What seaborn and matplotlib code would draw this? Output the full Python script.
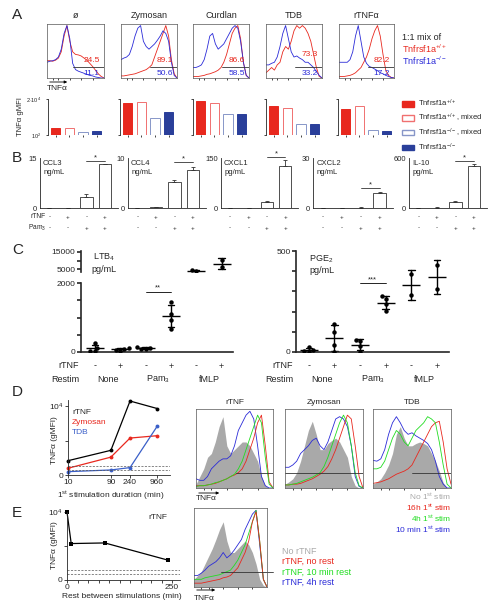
import numpy as np
import pandas as pd
import seaborn as sns
import matplotlib.pyplot as plt
from matplotlib.patches import Patch

sns.set_style("ticks")
plt.rcParams['font.family'] = ['Liberation Sans', 'DejaVu Sans']
plt.rcParams['mathtext.default'] = 'regular'
plt.rcParams['axes.linewidth'] = 0.6
plt.rcParams['xtick.major.width'] = 0.6
plt.rcParams['ytick.major.width'] = 0.6
plt.rcParams['xtick.major.size'] = 2
plt.rcParams['ytick.major.size'] = 2

RED = '#e8281e'
BLUE = '#2b2bd8'
GREEN = '#22dd22'
GRAY = '#a9a9a9'
DKBLUE = '#2a3f9a'

# ---------------- data ----------------
hist_x = list(range(0, 101, 5))

# A: flow histograms, Tnfrsf1a+/+ (red) and -/- (blue)
a_titles = ['ø', 'Zymosan', 'Curdlan', 'TDB', 'rTNFα']
a_red = [
    [.33, .33, .32, .34, .38, .5, .8, 1.0, .7, .5, .45, .44, .42, .38, .34, .28, .22, .15, .08, .03, 0],
    [.04, .04, .05, .06, .07, .08, .1, .12, .14, .16, .2, .25, .4, .55, .7, .85, 1.0, .8, .35, .08, 0],
    [.03, .03, .03, .04, .05, .07, .08, .1, .12, .15, .2, .3, .45, .65, .85, .95, 1.0, .75, .3, .05, 0],
    [.1, .15, .2, .15, .25, .3, .5, .6, .55, .7, .9, 1.0, .95, 1.0, .95, .85, .7, .45, .2, .03, 0],
    [.03, .03, .03, .04, .05, .07, .1, .15, .2, .3, .4, .55, .75, .9, 1.0, .8, .45, .15, .05, .01, 0],
]
a_blue = [
    [.3, .32, .33, .35, .4, .55, .85, 1.0, .75, .28, .16, .13, .11, .09, .07, .05, .04, .02, .01, 0, 0],
    [.35, .38, .4, .45, .6, .8, .95, 1.0, .7, .6, .55, .6, .65, .72, .8, .9, .85, .7, .3, .05, 0],
    [.2, .2, .22, .25, .35, .55, .8, .85, .65, .55, .6, .65, .75, .85, .95, 1.0, .95, .7, .3, .05, 0],
    [.25, .25, .28, .3, .4, .6, .85, 1.0, .75, .5, .4, .42, .38, .35, .3, .3, .25, .2, .12, .05, 0],
    [.3, .3, .3, .3, .35, .5, .8, 1.0, .7, .4, .28, .22, .2, .17, .14, .1, .08, .05, .03, .01, 0],
]
a_pct_red = ['24.5', '89.1', '86.6', '73.3', '82.2']
a_pct_blue = ['11.1', '50.6', '58.5', '33.2', '17.2']

# A: gMFI bars (wt, wt mixed, ko mixed, ko)
a_gmfi_wt = [280, 10700, 14200, 7100, 4600]
a_gmfi_wt_mix = [280, 12300, 10700, 5300, 6800]
a_gmfi_ko_mix = [156, 1170, 2100, 500, 210]
a_gmfi_ko = [180, 2830, 2100, 480, 190]
a_legend = ['Tnfrsf1a$^{+/+}$', 'Tnfrsf1a$^{+/+}$, mixed', 'Tnfrsf1a$^{-/-}$, mixed', 'Tnfrsf1a$^{-/-}$']

# B: cytokines, conditions (rTNF, Pam3): --, +-, -+, ++
b_names = ['CCL3\nng/mL', 'CCL4\nng/mL', 'CXCL1\npg/mL', 'CXCL2\nng/mL', 'IL-10\npg/mL']
b_top = [15, 10, 150, 30, 600]
b_mean = [[0, 0.1, 3.4, 13.1], [0, 0.15, 5.3, 7.6], [0, 0, 19, 127], [0, 0, 0.3, 9.2], [0, 5, 76, 508]]
b_err = [[0, 0, 0.7, 0.2], [0, 0.05, 0.25, 0.7], [0, 0, 1.5, 17], [0, 0, 0.1, 0.6], [0, 2, 12, 16]]
b_rtnf = ['-', '+', '-', '+']
b_pam = ['-', '-', '+', '+']

# C: lipid mediators, groups: None-, None+, Pam3-, Pam3+, fMLP-, fMLP+
c_rtnf = ['-', '+', '-', '+', '-', '+']
c_restim = ['None', 'Pam$_3$', 'fMLP']
ltb4 = [[250, 130, 30, 20], [120, 100, 60, 20], [100, 120, 90, 140],
        [1440, 1090, 930, 670], [4200, 4500], [10500, 6200]]
pge2 = [[25, 10, 0, 5], [140, 100, 35, 0], [60, 55, 30, 2],
        [275, 262, 238, 205], [385, 280], [430, 310]]

# D: 1st stimulation duration
d_dur = [10, 90, 240, 960]
d_rtnf = [260, 520, 14000, 8500]
d_zym = [157, 330, 1180, 1380]
d_tdb = [125, 140, 164, 2570]
d_base = [183, 140]
d_titles = ['rTNF', 'Zymosan', 'TDB']
d_gray = [
    [.05, .15, .25, .4, .45, .6, .8, .93, .55, .45, .5, .55, .6, .6, .55, .45, .35, .15, .03, 0, 0],
    [.05, .08, .12, .2, .35, .55, .75, .87, .7, .5, .5, .58, .62, .65, .6, .5, .4, .15, .03, 0, 0],
    [.05, .08, .12, .2, .3, .45, .7, .8, .65, .55, .55, .58, .6, .58, .55, .45, .35, .22, .07, 0, 0],
]
d_blue = [
    [.12, .1, .1, .15, .25, .3, .35, .38, .38, .42, .55, .75, .85, .95, 1.0, .9, .55, .15, .03, 0, 0],
    [.27, .27, .3, .35, .45, .5, .55, .62, .65, .55, .5, .6, .75, .9, .93, .9, .8, .55, .15, .02, 0],
    [.36, .35, .38, .5, .7, .85, .93, .85, .75, .7, .72, .68, .65, .62, .58, .5, .35, .15, .05, 0, 0],
]
d_green = [
    [.02, .03, .03, .04, .05, .07, .08, .1, .12, .15, .18, .25, .35, .5, .65, .8, .95, .85, .4, .05, 0],
    [.04, .04, .05, .06, .08, .1, .12, .14, .17, .2, .28, .4, .55, .7, .85, .95, .85, .55, .2, .03, 0],
    [.25, .25, .27, .35, .5, .65, .75, .7, .6, .55, .65, .75, .8, .85, .93, .9, .85, .6, .3, .05, 0],
]
d_red = [
    [.03, .03, .03, .04, .05, .06, .08, .1, .12, .15, .17, .2, .25, .35, .5, .65, .85, .95, .55, .08, 0],
    [.04, .04, .05, .05, .06, .08, .1, .12, .15, .18, .22, .28, .38, .5, .65, .8, .95, .9, .55, .15, 0],
    [.06, .07, .08, .1, .12, .15, .18, .2, .22, .25, .3, .4, .5, .6, .7, .8, .85, .87, .6, .25, .05],
]
d_legend = ['No 1$^{st}$ stim', '16h 1$^{st}$ stim', '4h 1$^{st}$ stim', '10 min 1$^{st}$ stim']

# E: rest between stimulations
e_rest = [0, 10, 90, 240]
e_tnf = [10000, 1180, 1230, 385]
e_base = [196, 150]
e_gray = [.1, .15, .2, .3, .4, .5, .62, .75, .85, .6, .45, .45, .5, .55, .6, .55, .45, .3, .1, .02, 0]
e_blue = [.15, .15, .18, .22, .27, .3, .33, .38, .45, .38, .42, .48, .55, .62, .75, .85, .95, 1.0, .55, .1, 0]
e_green = [.1, .1, .1, .12, .13, .14, .15, .16, .18, .2, .22, .28, .35, .45, .55, .7, .85, 1.0, .6, .1, 0]
e_red = [.05, .05, .05, .06, .07, .08, .09, .1, .12, .13, .15, .2, .25, .35, .45, .6, .85, .98, .6, .1, 0]
e_legend = ['No rTNF', 'rTNF, no rest', 'rTNF, 10 min rest', 'rTNF, 4h rest']

# ---------------- figure ----------------
W, H = 496, 611
fig = plt.figure(figsize=(W / 100, H / 100), dpi=100)


def ax_at(x0, y0, x1, y1):
    return fig.add_axes([x0 / W, 1 - y1 / H, (x1 - x0) / W, (y1 - y0) / H])


def ftext(x, y, s, **kw):
    kw.setdefault('fontsize', 6)
    kw.setdefault('va', 'center')
    fig.text(x / W, 1 - y / H, s, **kw)


def farrow(x0, x1, y):
    fig.add_artist(plt.matplotlib.patches.FancyArrowPatch(
        (x0 / W, 1 - y / H), (x1 / W, 1 - y / H), transform=fig.transFigure,
        arrowstyle='-|>', mutation_scale=4, lw=0.6, color='k'))


def hist_box(ax):
    ax.set_xlim(0, 100)
    ax.set_ylim(0, 1.03)
    ax.set_xticks([10, 20, 40, 60, 80])
    ax.tick_params(axis='x', length=1.2, labelbottom=False)
    ax.set_yticks([])
    ax.set_xlabel('')
    ax.set_ylabel('')
    for s in ax.spines.values():
        s.set_linewidth(0.5)
        s.set_color('#555555')


# panel letters
for letter, y in zip('ABCDE', [15, 158, 250, 392, 513]):
    ftext(12, y, letter, fontsize=11)

# ---- A histograms ----
a_boxes = [(47, 24, 104, 78), (121, 24, 177, 78), (193, 24, 249, 78), (266, 24, 322, 78), (339, 24, 394, 78)]
for i, (x0, y0, x1, y1) in enumerate(a_boxes):
    ax = ax_at(x0, y0, x1, y1)
    sns.lineplot(x=hist_x, y=a_red[i], ax=ax, color=RED, lw=0.6)
    sns.lineplot(x=hist_x, y=a_blue[i], ax=ax, color=BLUE, lw=0.6)
    hist_box(ax)
    gx = 0.46 if i == 0 else 0.52
    ax.plot([gx * 100, 100], [0.21, 0.21], color='#333333', lw=0.6)
    ry = 0.43 if i == 3 else 0.32
    ax.text(0.78, ry, a_pct_red[i], color=RED, fontsize=6, ha='center', va='center', transform=ax.transAxes)
    ax.text(0.78, 0.09, a_pct_blue[i], color=BLUE, fontsize=6, ha='center', va='center', transform=ax.transAxes)
    ftext((x0 + x1) / 2, 15, a_titles[i], fontsize=6.5, ha='center')
farrow(47, 70, 82)
ftext(47, 88, 'TNFα', fontsize=6)
ftext(402, 37, '1:1 mix of', fontsize=6.5)
ftext(402, 49, 'Tnfrsf1a$^{+/+}$', fontsize=6.5, color=RED)
ftext(402, 61, 'Tnfrsf1a$^{-/-}$', fontsize=6.5, color=BLUE)

# ---- A bars ----
a_spines = [48, 120, 193, 266, 338]
for i, x0 in enumerate(a_spines):
    ax = ax_at(x0, 99, x0 + 57, 135)
    vals = [a_gmfi_wt[i], a_gmfi_wt_mix[i], a_gmfi_ko_mix[i], a_gmfi_ko[i]]
    faces = [RED, 'white', 'white', DKBLUE]
    edges = [RED, '#f07070', '#8796c8', DKBLUE]
    ax.bar(range(4), vals, width=0.68, color=faces, edgecolor=edges, linewidth=0.7)
    ax.set_yscale('log')
    ax.set_ylim(100, 20000)
    ax.set_xlim(-0.55, 3.6)
    ax.set_xticks(range(4))
    ax.set_xticklabels([])
    ax.tick_params(axis='x', length=1.2)
    ax.minorticks_off()
    ax.set_yticks([100, 20000])
    ax.tick_params(axis='y', labelsize=4, length=1.5)
    if i == 0:
        ax.set_yticklabels(['10$^2$', '2·10$^4$'])
    else:
        ax.set_yticklabels([])
    sns.despine(ax=ax, top=True, right=True, bottom=True)
ftext(20, 117, 'TNFα gMFI', fontsize=5.5, rotation=90, ha='center')
fig.legend(handles=[Patch(facecolor=RED, edgecolor=RED),
                    Patch(facecolor='white', edgecolor='#f07070'),
                    Patch(facecolor='white', edgecolor='#8796c8'),
                    Patch(facecolor=DKBLUE, edgecolor=DKBLUE)],
           labels=a_legend, loc='upper left', bbox_to_anchor=(398 / W, 1 - 94 / H),
           frameon=False, fontsize=5.5, handlelength=1.6, handleheight=0.7,
           labelspacing=0.35, borderpad=0, handletextpad=0.5)

# ---- B ----
b_axes = [(40, 118), (128, 206), (221, 298), (313, 393), (409, 487)]
b_sig = [161, 162, 157, 188, 161]
for i, (x0, x1) in enumerate(b_axes):
    ax = ax_at(x0, 158, x1, 208)
    ax.bar(range(4), b_mean[i], width=0.68, color='white', edgecolor='#333333', linewidth=0.6)
    ax.errorbar(range(4), b_mean[i], yerr=[[0] * 4, b_err[i]], fmt='none', ecolor='#333333',
                elinewidth=0.6, capsize=1.5, capthick=0.6)
    ax.set_ylim(0, b_top[i])
    ax.set_xlim(-0.5, 3.7)
    ax.set_yticks([0, b_top[i]])
    ax.set_yticklabels(['0', str(b_top[i])])
    ax.set_xticks([])
    ax.tick_params(axis='y', labelsize=5.5, length=0, pad=2)
    sns.despine(ax=ax)
    ax.text(0.04, 0.97, b_names[i], transform=ax.transAxes, fontsize=5.5, va='top', linespacing=1.4)
    sy = b_top[i] * (208 - b_sig[i]) / 50
    ax.plot([2, 3], [sy, sy], color='#333333', lw=0.6, clip_on=False)
    ax.text(2.5, sy, '*', ha='center', va='bottom', fontsize=5.5, clip_on=False)
    for k in range(4):
        ax.text(k, -0.18, b_rtnf[k], transform=ax.get_xaxis_transform(), ha='center', va='center', fontsize=4.5)
        ax.text(k, -0.4, b_pam[k], transform=ax.get_xaxis_transform(), ha='center', va='center', fontsize=4.5)
ftext(46, 217, 'rTNF', fontsize=4.8, ha='right')
ftext(46, 228, 'Pam$_3$', fontsize=4.8, ha='right')


# ---- C ----
def long_df(groups):
    return pd.DataFrame({'g': [k for k, g in enumerate(groups) for _ in g],
                         'v': [v for g in groups for v in g]})


def dots_and_bars(ax, df):
    sns.swarmplot(data=df, x='g', y='v', native_scale=True, ax=ax, color='k', size=3.2)
    sns.pointplot(data=df, x='g', y='v', native_scale=True, ax=ax, color='k', errorbar='sd',
                  linestyle='none', marker='_', markersize=13, markeredgewidth=1.0,
                  capsize=0.25, err_kws={'linewidth': 1.0})
    ax.set_xlabel('')
    ax.set_ylabel('')


def c_rows(ax, h_px):
    # rows of condition labels, 14 px and 27 px below the axis
    tr = ax.get_xaxis_transform()
    r1, r2 = -14 / h_px, -27 / h_px
    for k in range(6):
        ax.text(k, r1, c_rtnf[k], transform=tr, ha='center', va='center', fontsize=6.5)
    for k in range(3):
        ax.text(2 * k + 0.5, r2, c_restim[k], transform=tr, ha='center', va='center', fontsize=6.5)
    ax.text(-0.62, r1, 'rTNF', transform=tr, ha='right', va='center', fontsize=6.5)
    ax.text(-0.62, r2, 'Restim', transform=tr, ha='right', va='center', fontsize=6.5)


df_ltb = long_df(ltb4)
ax_lo = ax_at(81, 283, 233, 352)
ax_hi = ax_at(81, 251, 233, 272)
dots_and_bars(ax_lo, df_ltb[df_ltb.g < 4])
dots_and_bars(ax_hi, df_ltb[df_ltb.g >= 4])
for ax in (ax_lo, ax_hi):
    ax.set_xlim(-0.55, 5.45)
    ax.set_xticks([])
    for s in ax.spines.values():
        s.set_linewidth(1.2)
    ax.tick_params(axis='y', width=1.2, length=3, labelsize=6, pad=1)
ax_lo.set_ylim(0, 2000)
ax_lo.set_yticks([0, 500, 1000, 1500, 2000])
ax_lo.set_yticklabels(['0', '', '', '', '2000'])
sns.despine(ax=ax_lo)
ax_hi.set_ylim(3500, 15500)
ax_hi.set_yticks([5000, 10000, 15000])
ax_hi.set_yticklabels(['5000', '', '15000'])
sns.despine(ax=ax_hi, bottom=True)
ax_lo.plot([2, 3], [1750, 1750], color='k', lw=0.6)
ax_lo.text(2.5, 1760, '**', ha='center', va='bottom', fontsize=5.5)
c_rows(ax_lo, 69)
ftext(93, 257, 'LTB$_4$', fontsize=6.5)
ftext(91, 269, 'pg/mL', fontsize=6.5)

ax_p = ax_at(296, 251, 449, 352)
dots_and_bars(ax_p, long_df(pge2))
ax_p.set_xlim(-0.5, 5.47)
ax_p.set_ylim(0, 500)
ax_p.set_xticks([])
ax_p.set_yticks([0, 100, 200, 300, 400, 500])
ax_p.set_yticklabels(['0', '', '', '', '', '500'])
for s in ax_p.spines.values():
    s.set_linewidth(1.2)
ax_p.tick_params(axis='y', width=1.2, length=3, labelsize=6, pad=1)
sns.despine(ax=ax_p)
ax_p.plot([2, 3], [340, 340], color='k', lw=0.6)
ax_p.text(2.5, 342, '***', ha='center', va='bottom', fontsize=5.5)
c_rows(ax_p, 101)
ftext(309, 259, 'PGE$_2$', fontsize=6.5)
ftext(309, 271, 'pg/mL', fontsize=6.5)

# ---- D line plot ----
ax = ax_at(68, 400, 170, 475)
for vals, col in zip([d_rtnf, d_zym, d_tdb], ['k', RED, '#3a5fc8']):
    sns.lineplot(x=d_dur, y=vals, ax=ax, color=col, lw=0.9, marker='o', markersize=2.8,
                 markeredgewidth=0, clip_on=False)
for b in d_base:
    ax.axhline(b, color='#555555', lw=0.5, ls=(0, (3, 2)))
ax.set_xscale('log')
ax.set_yscale('log')
ax.set_xlim(10, 1860)
ax.set_ylim(100, 15000)
ax.minorticks_off()
ax.set_xticks(d_dur)
ax.set_xticklabels([str(d) for d in d_dur])
ax.set_yticks([100, 1000, 10000])
ax.set_yticklabels(['0', '', '10$^4$'])
ax.tick_params(labelsize=6, pad=1)
sns.despine(ax=ax)
ftext(72, 412, 'rTNF', fontsize=6)
ftext(72, 423, 'Zymosan', fontsize=6, color=RED)
ftext(72, 433, 'TDB', fontsize=6, color='#3a5fc8')
ftext(55, 440, 'TNFα (gMFI)', fontsize=6, rotation=90, ha='center')
ftext(111, 496, '1$^{st}$ stimulation duration (min)', fontsize=6, ha='center')

# ---- D histograms ----
d_boxes = [(196, 409, 273, 488), (285, 409, 363, 488), (373, 409, 451, 488)]
d_gate = [52, 0, 50]
for i, (x0, y0, x1, y1) in enumerate(d_boxes):
    ax = ax_at(x0, y0, x1, y1)
    ax.fill_between(hist_x, d_gray[i], color=GRAY, lw=0)
    sns.lineplot(x=hist_x, y=d_blue[i], ax=ax, color=BLUE, lw=0.6)
    sns.lineplot(x=hist_x, y=d_red[i], ax=ax, color=RED, lw=0.6)
    sns.lineplot(x=hist_x, y=d_green[i], ax=ax, color=GREEN, lw=0.6)
    hist_box(ax)
    ax.plot([d_gate[i], 100], [0.2, 0.2], color='#333333', lw=0.6)
    ftext((x0 + x1) / 2, 403, d_titles[i], fontsize=6, ha='center')
farrow(196, 222, 493)
ftext(196, 499, 'TNFα', fontsize=6)
for txt, col, y in zip(d_legend, [GRAY, RED, GREEN, BLUE], [497, 508, 519, 530]):
    ftext(451, y, txt, fontsize=6, color=col, ha='right')

# ---- E line plot ----
ax = ax_at(67, 512, 180, 580)
sns.lineplot(x=e_rest, y=e_tnf, ax=ax, color='k', lw=0.9, marker='s', markersize=2.6,
             markeredgewidth=0, clip_on=False)
for b in e_base:
    ax.axhline(b, color='#555555', lw=0.5, ls=(0, (3, 2)))
ax.set_yscale('log')
ax.set_ylim(100, 10000)
ax.set_xlim(0, 269)
ax.minorticks_off()
ax.set_xticks(range(0, 251, 25))
ax.set_xticklabels(['0'] + [''] * 9 + ['250'])
ax.set_yticks([100, 1000, 10000])
ax.set_yticklabels(['0', '', '10$^4$'])
ax.tick_params(labelsize=6, pad=1)
sns.despine(ax=ax)
ax.text(0.8, 0.92, 'rTNF', transform=ax.transAxes, fontsize=6, ha='center', va='center')
ftext(55, 545, 'TNFα (gMFI)', fontsize=6, rotation=90, ha='center')
ftext(122, 596, 'Rest between stimulations (min)', fontsize=6, ha='center')

# ---- E histogram ----
ax = ax_at(194, 508, 267, 587)
ax.fill_between(hist_x, e_gray, color=GRAY, lw=0)
sns.lineplot(x=hist_x, y=e_blue, ax=ax, color=BLUE, lw=0.6)
sns.lineplot(x=hist_x, y=e_green, ax=ax, color=GREEN, lw=0.6)
sns.lineplot(x=hist_x, y=e_red, ax=ax, color=RED, lw=0.6)
hist_box(ax)
ax.plot([37, 108], [0.2, 0.2], color='#333333', lw=0.6, clip_on=False)
farrow(194, 218, 590)
ftext(194, 598, 'TNFα', fontsize=6)
for txt, col, y in zip(e_legend, [GRAY, RED, GREEN, BLUE], [551, 561, 572, 582]):
    ftext(282, y, txt, fontsize=6.5, color=col)

fig.savefig('out.png', dpi=100)
